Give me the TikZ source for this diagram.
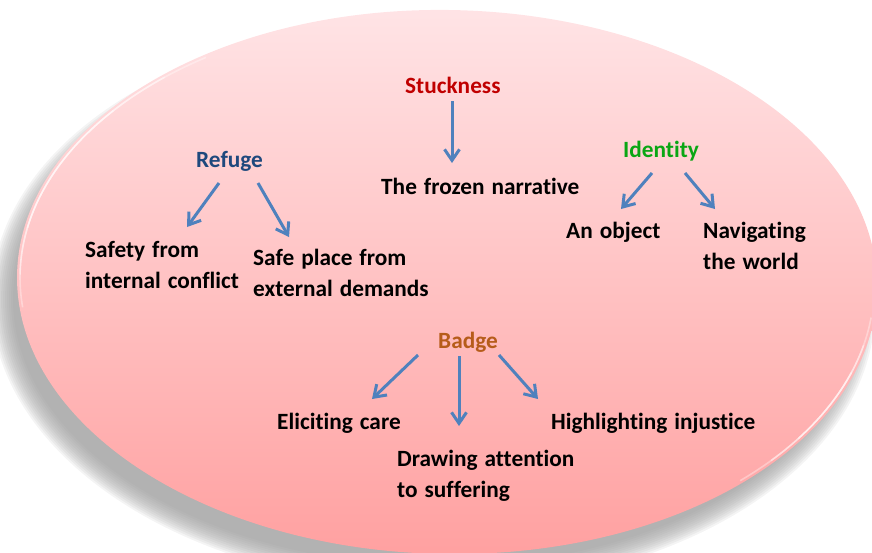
\documentclass[tikz,border=0pt]{standalone}
\usepackage{fontspec}
\setmainfont{Carlito}[Ligatures=NoCommon]
\usetikzlibrary{arrows.meta}
\definecolor{pinkTop}{RGB}{255,228,230}
\definecolor{pinkBot}{RGB}{255,160,160}
\definecolor{arrowBlue}{RGB}{79,129,189}
\definecolor{stuckRed}{RGB}{192,0,0}
\definecolor{refugeBlue}{RGB}{31,73,125}
\definecolor{identityGreen}{RGB}{10,166,20}
\definecolor{badgeBrown}{RGB}{182,92,26}
\newcommand{\labelfont}{\fontsize{23.3}{31}\selectfont\bfseries\spaceskip=7pt plus 1pt\relax}

\begin{document}
\begin{tikzpicture}[x=1pt,y=-1pt,
  txt/.style={inner sep=0pt, anchor=base west, align=left, font=\labelfont},
  arr/.style={draw=arrowBlue, line width=3pt,
    -{Straight Barb[length=11pt,width=15pt]}},
  rim/.style={draw=white, line width=1.6pt}]

\useasboundingbox (0,0) rectangle (872,552);
\clip (0,0) rectangle (872,552);

% soft drop shadow below the oval
\foreach \k in {0,...,11}{
  \fill[black!40, opacity=0.11, rotate around={-1:(433,304)}]
    (433,304) ellipse [x radius={442-2*\k}, y radius={284-2*\k}];
}

% the oval with its vertical gradient
\shade[top color=pinkTop, bottom color=pinkBot, rotate around={-1:(447,282)}]
  (447,282) ellipse [x radius=430, y radius=272];

% bevel highlights along the rim
\begin{scope}[rotate around={-1:(447,282)}]
  \foreach \a/\b/\o in {173/235/0.35, 180/228/0.4, 190/218/0.45}{
    \draw[rim, opacity=\o] (447,282) ++(\a:427 and 269)
      arc[start angle=\a, end angle=\b, x radius=427, y radius=269];
  }
  \foreach \a/\b/\o in {6/46/0.35, 12/40/0.4, 18/34/0.45}{
    \draw[rim, opacity=\o] (447,282) ++(\a:427 and 269)
      arc[start angle=\a, end angle=\b, x radius=427, y radius=269];
  }
\end{scope}

% texts (multi-line nodes are placed by the baseline of their last line)
\node[txt, text=stuckRed] (stuck) at (405,93) {Stuckness};
\node[txt] (frozen) at (381,194) {The frozen narrative};
\node[txt, text=refugeBlue] (refuge) at (196,167) {Refuge};
\node[txt] (safety) at (85,288) {Safety from\\internal conflict};
\node[txt] (safeplace) at (253,296) {Safe place from\\external demands};
\node[txt, text=identityGreen] (identity) at (623,157) {Identity};
\node[txt] (object) at (566,238) {An object};
\node[txt] (navig) at (703,269) {Navigating\\the world};
\node[txt, text=badgeBrown] (badge) at (438,348) {Badge};
\node[txt] (eliciting) at (277,429) {Eliciting care};
\node[txt] (drawing) at (397,497) {Drawing attention\\to suffering};
\node[txt] (highlight) at (551,429) {Highlighting injustice};

% arrows
\draw[arr] ([shift={(47,8)}]stuck.base west) -- ([shift={(71,-31)}]frozen.base west);
\draw[arr] ([shift={(23,16)}]refuge.base west) -- ([shift={(102,-61)}]safety.base west);
\draw[arr] ([shift={(62,16)}]refuge.base west) -- ([shift={(36,-59)}]safeplace.base west);
\draw[arr] ([shift={(29,16)}]identity.base west) -- ([shift={(55,-29)}]object.base west);
\draw[arr] ([shift={(62,16)}]identity.base west) -- ([shift={(12,-60)}]navig.base west);
\draw[arr] ([shift={(-20,7)}]badge.base west) -- ([shift={(95,-30)}]eliciting.base west);
\draw[arr] ([shift={(21,8)}]badge.base west) -- ([shift={(62,-71)}]drawing.base west);
\draw[arr] ([shift={(61,7)}]badge.base west) -- ([shift={(-13,-30)}]highlight.base west);
\end{tikzpicture}
\end{document}
